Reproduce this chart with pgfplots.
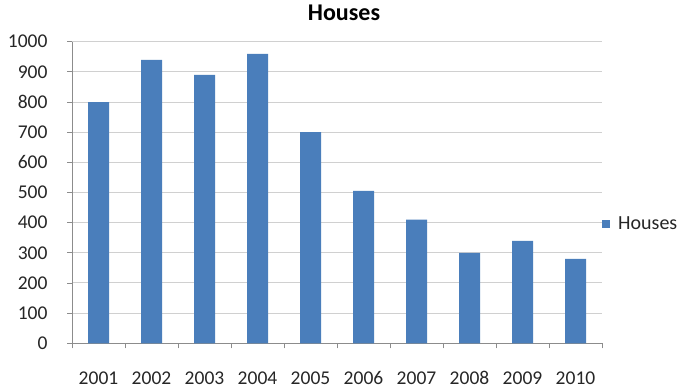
\documentclass[border=0pt]{standalone}
\usepackage{pgfplots}
\pgfplotsset{compat=1.18}
\usepackage{fontspec}
\setmainfont{Carlito}
\definecolor{barblue}{HTML}{4A7EBB}
\definecolor{gridgray}{HTML}{D0D0D0}
\definecolor{axisgray}{HTML}{8C8C8C}
\definecolor{txt}{HTML}{262626}
\begin{document}
\begin{tikzpicture}
\useasboundingbox (-72pt,-45.7pt) rectangle (612pt,343.3pt);
\begin{axis}[
  at={(0,0)}, anchor=south west,
  scale only axis, width=530pt, height=301.6pt,
  xmin=-0.5, xmax=9.5, ymin=0, ymax=1000,
  ytick distance=100,
  ymajorgrids, major grid style={draw=gridgray, line width=1pt},
  axis x line*=bottom, axis y line*=left,
  axis line style={draw=axisgray, line width=0.8pt},
  tick style={draw=axisgray, line width=0.8pt},
  tick align=outside, major tick length=5pt,
  xtick={-0.5,0.5,...,9.5}, xticklabels={},
  extra x ticks={0,1,2,3,4,5,6,7,8,9},
  extra x tick labels={2001,2002,2003,2004,2005,2006,2007,2008,2009,2010},
  extra x tick style={major tick length=0pt, grid=none,
     tick label style={anchor=base, yshift=-41pt}},
  /pgf/number format/assume math mode=true,
  /pgf/number format/1000 sep={},
  ticklabel style={font=\fontsize{19.5}{19.5}\selectfont, text=txt},
  yticklabel style={xshift=-16pt},
  title={Houses},
  title style={font=\bfseries\fontsize{24}{24}\selectfont, text=black,
     at={(0.5,1)}, anchor=base, yshift=15pt, xshift=7pt},
  legend style={at={(1,0.395)}, anchor=west, draw=none, fill=none,
     font=\fontsize{20}{20}\selectfont, text=txt, inner xsep=0pt},
  legend image code/.code={\fill[barblue] (0pt,-4pt) rectangle (8pt,4pt); \path (14pt,0pt);},
]
\addplot[ybar, bar width=21pt, fill=barblue, draw=none] coordinates {
  (0,800) (1,940) (2,890) (3,960) (4,700)
  (5,505) (6,410) (7,300) (8,340) (9,280)
};
\addlegendentry{Houses}
\end{axis}
\end{tikzpicture}
\end{document}
